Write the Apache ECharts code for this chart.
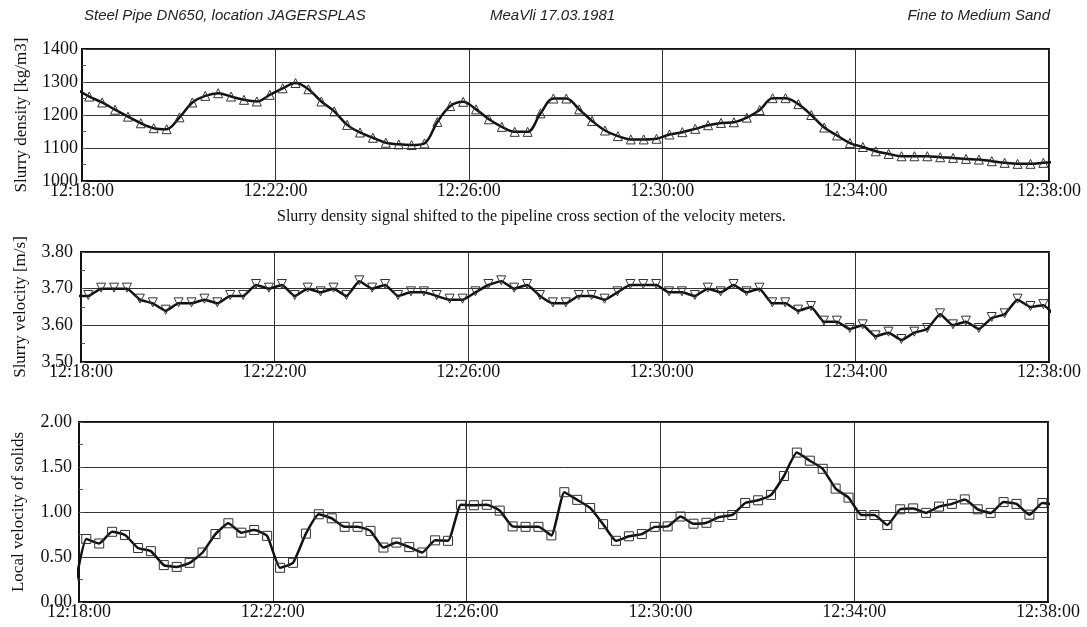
<!DOCTYPE html>
<html>
<head>
<meta charset="utf-8">
<script src="https://cdn.jsdelivr.net/npm/echarts@6/dist/echarts.min.js"></script>
<style>
    html, body { margin: 0; background: #fff; }
    #main { width: 1087px; height: 627px; }
</style>
</head>
<body>
<div id="main"></div>
<script>
// one sample every 16 s; first entry (12:17:53) and last (12:38:09) lie just outside the axis
const startSec = -7;
const stepSec = 16;
const timeTicks = ['12:18:00', '12:22:00', '12:26:00', '12:30:00', '12:34:00', '12:38:00'];

// slurry density [kg/m3]
const density = [1278,
    1256, 1238, 1216, 1195, 1175, 1160, 1157, 1193, 1238, 1258,
    1266, 1256, 1246, 1241, 1261, 1281, 1297, 1278, 1241, 1211,
    1170, 1147, 1131, 1116, 1111, 1109, 1114, 1179, 1227, 1240,
    1217, 1187, 1164, 1149, 1149, 1205, 1250, 1250, 1217, 1182,
    1153, 1136, 1126, 1126, 1128, 1141, 1148, 1158, 1169, 1176,
    1178, 1192, 1215, 1251, 1251, 1233, 1200, 1162, 1138, 1115,
    1103, 1090, 1082, 1075, 1075, 1075, 1072, 1070, 1067, 1065,
    1060, 1055, 1052, 1052, 1055,
    1058];

// slurry velocity [m/s]
const velocity = [3.68,
    3.68, 3.70, 3.70, 3.70, 3.67, 3.66, 3.64, 3.66, 3.66, 3.67,
    3.66, 3.68, 3.68, 3.71, 3.70, 3.71, 3.68, 3.70, 3.69, 3.70,
    3.68, 3.72, 3.70, 3.71, 3.68, 3.69, 3.69, 3.68, 3.67, 3.67,
    3.69, 3.71, 3.72, 3.70, 3.71, 3.68, 3.66, 3.66, 3.68, 3.68,
    3.67, 3.69, 3.71, 3.71, 3.71, 3.69, 3.69, 3.68, 3.70, 3.69,
    3.71, 3.69, 3.70, 3.66, 3.66, 3.64, 3.65, 3.61, 3.61, 3.59,
    3.60, 3.57, 3.58, 3.56, 3.58, 3.59, 3.63, 3.60, 3.61, 3.59,
    3.62, 3.63, 3.67, 3.65, 3.655,
    3.62];

// local velocity of solids
const solids = [0.08,
    0.70, 0.65, 0.78, 0.745, 0.60, 0.565, 0.41, 0.39, 0.435, 0.55,
    0.755, 0.875, 0.77, 0.80, 0.735, 0.38, 0.435, 0.76, 0.975, 0.93,
    0.835, 0.835, 0.79, 0.605, 0.66, 0.61, 0.55, 0.685, 0.68, 1.08,
    1.075, 1.08, 1.015, 0.84, 0.835, 0.835, 0.74, 1.22, 1.135, 1.045,
    0.865, 0.68, 0.73, 0.755, 0.835, 0.84, 0.95, 0.87, 0.88, 0.945,
    0.967, 1.10, 1.13, 1.19, 1.40, 1.66, 1.57, 1.48, 1.26, 1.16,
    0.967, 0.967, 0.856, 1.03, 1.04, 0.99, 1.06, 1.09, 1.14, 1.03,
    0.99, 1.11, 1.09, 0.97, 1.10,
    1.08];

const serif = 'Liberation Serif';
const ink = '#111';

function withTimes(values) {
    return values.map(function (v, i) { return [startSec + i * stepSec, v]; });
}

function xAxis(idx) {
    return {
        gridIndex: idx,
        type: 'value',
        min: 0,
        max: 1200,
        interval: 240,
        axisLine: { lineStyle: { color: ink, width: 2 } },
        axisTick: { show: false },
        splitLine: { show: true, lineStyle: { color: '#333', width: 1 } },
        axisLabel: {
            color: ink,
            fontFamily: serif,
            fontSize: 18,
            margin: 1,
            formatter: function (v) { return timeTicks[Math.round(v / 240)]; }
        }
    };
}

function yAxis(idx, min, max, interval, name, digits, margin) {
    return {
        gridIndex: idx,
        type: 'value',
        min: min,
        max: max,
        interval: interval,
        name: name,
        nameLocation: 'middle',
        nameGap: 52,
        nameTextStyle: { color: ink, fontFamily: serif, fontSize: 17 },
        axisLine: { show: true, lineStyle: { color: ink, width: 2 } },
        axisTick: { show: true, inside: true, length: 4, lineStyle: { color: '#555' } },
        minorTick: { show: true, splitNumber: 2, length: 4, lineStyle: { color: '#555' } },
        splitLine: { show: true, lineStyle: { color: '#333', width: 1 } },
        axisLabel: {
            color: ink,
            fontFamily: serif,
            fontSize: 18,
            margin: margin,
            formatter: function (v) { return v.toFixed(digits); }
        }
    };
}

function lineSeries(idx, values, symbol, rotate, offset, smooth) {
    return {
        type: 'line',
        xAxisIndex: idx,
        yAxisIndex: idx,
        data: withTimes(values),
        smooth: smooth,
        clip: true,
        symbol: symbol,
        symbolSize: 9,
        symbolRotate: rotate,
        symbolOffset: [0, offset],
        lineStyle: { color: ink, width: 2.5 },
        itemStyle: { color: 'rgba(255,255,255,0)', borderColor: '#333', borderWidth: 1 }
    };
}

const headStyle = { fontFamily: 'Liberation Sans', fontStyle: 'italic', fontWeight: 'normal', fontSize: 15, color: '#222' };

const option = {
    animation: false,
    backgroundColor: '#fff',
    title: [
        { text: 'Steel Pipe DN650, location JAGERSPLAS', left: 84, top: 8, padding: 0, textStyle: headStyle },
        { text: 'MeaVli 17.03.1981', left: 490, top: 8, padding: 0, textStyle: headStyle },
        { text: 'Fine to Medium Sand', right: 37, top: 8, padding: 0, textStyle: headStyle },
        {
            text: 'Slurry density signal shifted to the pipeline cross section of the velocity meters.',
            left: 277, top: 209, padding: 0,
            textStyle: { fontFamily: serif, fontWeight: 'normal', fontSize: 16, color: ink }
        }
    ],
    grid: [
        { left: 82, right: 38, top: 49, height: 132, show: true, borderColor: ink, borderWidth: 2 },
        { left: 81, right: 38, top: 252, height: 110, show: true, borderColor: ink, borderWidth: 2 },
        { left: 79, right: 39, top: 422, height: 180, show: true, borderColor: ink, borderWidth: 2 }
    ],
    xAxis: [xAxis(0), xAxis(1), xAxis(2)],
    yAxis: [
        yAxis(0, 1000, 1400, 100, 'Slurry density [kg/m3]', 0, 4),
        yAxis(1, 3.5, 3.8, 0.1, 'Slurry velocity [m/s]', 2, 8),
        yAxis(2, 0, 2, 0.5, 'Local velocity of solids', 2, 7)
    ],
    series: [
        lineSeries(0, density, 'triangle', 0, 0, 0.35),
        lineSeries(1, velocity, 'triangle', 180, -1, 0.15),
        lineSeries(2, solids, 'rect', 0, 0, 0.15)
    ]
};

const chart = echarts.init(document.getElementById('main'));
chart.setOption(option);
</script>
</body>
</html>
